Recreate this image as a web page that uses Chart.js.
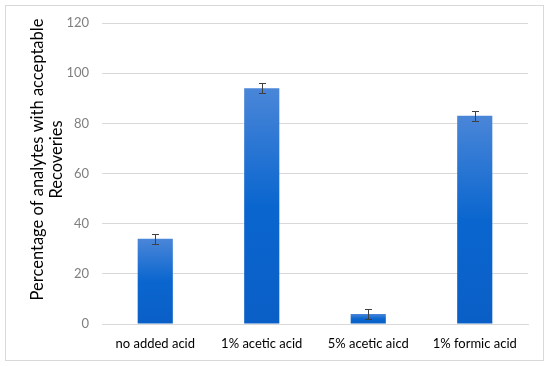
<!DOCTYPE html>
<html>
<head>
<meta charset="utf-8">
<script src="https://cdn.jsdelivr.net/npm/chart.js@4/dist/chart.umd.min.js"></script>
<style>
html,body{margin:0;padding:0;background:#fff;}
#wrap{width:550px;height:367px;position:relative;}
</style>
</head>
<body>
<div id="wrap"><canvas id="c" width="550" height="367"></canvas></div>
<script>
const categories = ["no added acid", "1% acetic acid", "5% acetic aicd", "1% formic acid"];
const values = [34, 94, 4, 83];
const errors = [2, 2, 2, 2];
const yTicks = [0, 20, 40, 60, 80, 100, 120];
const yTitle = ["Percentage of analytes with acceptable", "Recoveries"];

const FONT = "Lato, 'Open Sans', sans-serif";

function barGradient(context) {
  const chart = context.chart;
  const ys = chart.scales.y;
  if (!ys || context.dataIndex === undefined) return '#0a64cc';
  const v = values[context.dataIndex];
  const top = ys.getPixelForValue(v);
  const bot = ys.getPixelForValue(0);
  if (!isFinite(top) || !isFinite(bot) || top === bot) return '#0a64cc';
  const g = chart.ctx.createLinearGradient(0, top, 0, bot);
  g.addColorStop(0, '#4a86d8');
  g.addColorStop(0.5, '#0a66cf');
  g.addColorStop(1, '#0a5fc6');
  return g;
}

const frame = {
  id: 'frame',
  beforeDraw(chart) {
    const ctx = chart.ctx;
    ctx.save();
    ctx.strokeStyle = '#d9d9d9';
    ctx.lineWidth = 1;
    ctx.strokeRect(5.5, 5.5, 538, 355);
    ctx.restore();
  }
};

const errorBars = {
  id: 'errorBars',
  afterDatasetsDraw(chart) {
    const ctx = chart.ctx;
    const ys = chart.scales.y;
    const meta = chart.getDatasetMeta(0);
    ctx.save();
    ctx.strokeStyle = '#404040';
    ctx.lineWidth = 1;
    meta.data.forEach((bar, i) => {
      const x = Math.round(bar.x) + 0.5;
      const yt = Math.round(ys.getPixelForValue(values[i] + errors[i])) + 0.5;
      const yb = Math.round(ys.getPixelForValue(values[i] - errors[i])) + 0.5;
      ctx.beginPath();
      ctx.moveTo(x, yt); ctx.lineTo(x, yb);
      ctx.moveTo(x - 3.5, yt); ctx.lineTo(x + 3.5, yt);
      ctx.moveTo(x - 3.5, yb); ctx.lineTo(x + 3.5, yb);
      ctx.stroke();
    });
    ctx.restore();
  }
};

const yTitlePlugin = {
  id: 'yTitle',
  afterDraw(chart) {
    const ctx = chart.ctx;
    const a = chart.chartArea;
    const cy = (a.top + a.bottom) / 2 - 14;
    ctx.save();
    ctx.fillStyle = '#000';
    ctx.font = "16.5px " + FONT;
    ctx.textAlign = 'center';
    ctx.textBaseline = 'alphabetic';
    const baselines = [43, 62];
    yTitle.forEach((t, i) => {
      ctx.save();
      ctx.translate(baselines[i], cy);
      ctx.rotate(-Math.PI / 2);
      ctx.fillText(t, 0, 0);
      ctx.restore();
    });
    ctx.restore();
  }
};

new Chart(document.getElementById('c'), {
  type: 'bar',
  data: {
    labels: categories,
    datasets: [{
      data: values,
      backgroundColor: barGradient,
      borderWidth: 0,
      barPercentage: 0.33,
      categoryPercentage: 1
    }]
  },
  options: {
    responsive: false,
    animation: false,
    devicePixelRatio: 1,
    layout: { padding: { top: 23, right: 22, left: 0, bottom: 0 } },
    plugins: { legend: { display: false }, tooltip: { enabled: false } },
    scales: {
      x: {
        grid: { display: false, drawTicks: false },
        border: { display: true, color: '#d9d9d9' },
        ticks: { color: '#000', font: { family: FONT, size: 13 }, padding: 12, maxRotation: 0 },
        afterFit(s) { s.height = 43; }
      },
      y: {
        min: 0, max: 120,
        afterBuildTicks(s) { s.ticks = yTicks.map(v => ({ value: v })); },
        grid: { color: '#d9d9d9', drawTicks: false },
        border: { display: false },
        ticks: { color: '#7f7f7f', font: { family: FONT, size: 13 }, padding: 13 },
        afterFit(s) { s.width = 102; }
      }
    }
  },
  plugins: [frame, errorBars, yTitlePlugin]
});
</script>
</body>
</html>
